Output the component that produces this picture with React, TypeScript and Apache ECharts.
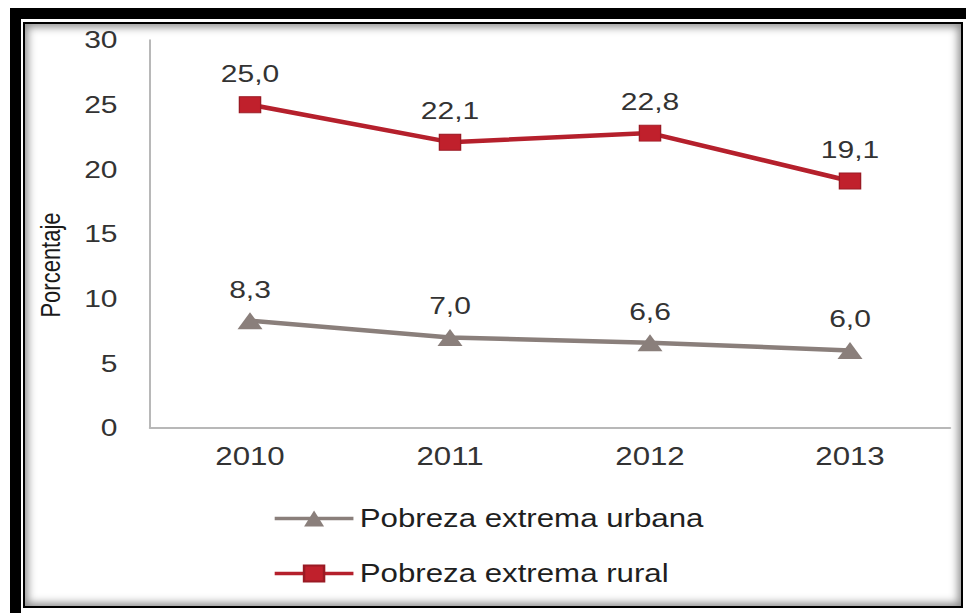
import React, { useEffect, useRef } from "react";
import * as echarts from "echarts";

const years = ["2010", "2011", "2012", "2013"];
const urbana = [8.3, 7.0, 6.6, 6.0];
const rural = [25.0, 22.1, 22.8, 19.1];
const seriesNames = ["Pobreza extrema urbana", "Pobreza extrema rural"];
const yMin = 0;
const yMax = 30;
const yStep = 5;
const yTitle = "Porcentaje";

const STRETCH = 1.25;
const CHART_W = 773;
const CHART_H = 613;

const fmt = (v: number) => v.toFixed(1).replace(".", ",");

export default function App() {
  const ref = useRef<HTMLDivElement>(null);
  useEffect(() => {
    if (!ref.current) return;
    const chart = echarts.init(ref.current, null, { renderer: "svg" });
    const font = "'Liberation Sans', Arial, sans-serif";
    chart.setOption({
      animation: false,
      backgroundColor: "transparent",
      textStyle: { fontFamily: font },
      grid: { left: 120, right: 13, top: 40, bottom: 185 },
      legend: {
        orient: "vertical",
        left: 213,
        top: 501,
        itemWidth: 63,
        itemHeight: 20,
        itemGap: 30,
        lineStyle: { width: 3.5 },
        textStyle: { fontSize: 25, color: "#1f1f1f", fontFamily: font },
        data: seriesNames,
      },
      graphic: [
        {
          type: "text",
          x: 40,
          y: 265,
          rotation: Math.PI / 2,
          style: {
            text: yTitle,
            fontSize: 22,
            fontFamily: font,
            fill: "#1a1a1a",
            align: "center",
            verticalAlign: "middle",
          },
        },
      ],
      xAxis: {
        type: "category",
        data: years,
        boundaryGap: true,
        axisLine: { lineStyle: { color: "#b8b8b8", width: 2 } },
        axisTick: { show: false },
        axisLabel: { fontSize: 25, color: "#333333", margin: 16, fontFamily: font },
      },
      yAxis: {
        type: "value",
        min: yMin,
        max: yMax,
        interval: yStep,
        axisLine: { show: true, lineStyle: { color: "#b8b8b8", width: 1.6 } },
        axisTick: { show: false },
        splitLine: { show: false },
        axisLabel: { fontSize: 24, color: "#333333", margin: 26, fontFamily: font },
      },
      series: [
        {
          name: seriesNames[0],
          type: "line",
          data: urbana,
          symbol: "triangle",
          symbolSize: [20, 17],
          lineStyle: { color: "#8a7f7b", width: 4.5 },
          itemStyle: { color: "#8a7f7b" },
          label: {
            show: true,
            position: "top",
            distance: 11,
            fontSize: 24,
            color: "#333333",
            fontFamily: font,
            formatter: (p: any) => fmt(p.value),
          },
        },
        {
          name: seriesNames[1],
          type: "line",
          data: rural,
          symbol: "rect",
          symbolSize: [17, 16],
          lineStyle: { color: "#b5202c", width: 4.5 },
          itemStyle: { color: "#c0202c", borderColor: "#9a1a24", borderWidth: 1 },
          label: {
            show: true,
            position: "top",
            distance: 11,
            fontSize: 24,
            color: "#333333",
            fontFamily: font,
            formatter: (p: any) => fmt(p.value),
          },
        },
      ],
    });
    return () => chart.dispose();
  }, []);

  return (
    <div
      style={{
        position: "fixed",
        left: 0,
        top: 0,
        width: 966,
        height: 613,
        background: "#ffffff",
        overflow: "hidden",
      }}
    >
      <div style={{ position: "absolute", left: 10, top: 8, width: 956, height: 11, background: "#000" }} />
      <div style={{ position: "absolute", left: 10, top: 8, width: 11, height: 605, background: "#000" }} />
      <div
        style={{
          position: "absolute",
          left: 23,
          top: 22,
          width: 940,
          height: 586,
          boxSizing: "border-box",
          border: "2px solid #000",
          background: "#fff",
          boxShadow: "inset 0 0 9px 3px rgba(0,0,0,0.45)",
        }}
      />
      <div
        ref={ref}
        style={{
          position: "absolute",
          left: 0,
          top: 0,
          width: CHART_W,
          height: CHART_H,
          transform: `scaleX(${STRETCH})`,
          transformOrigin: "0 0",
        }}
      />
    </div>
  );
}
